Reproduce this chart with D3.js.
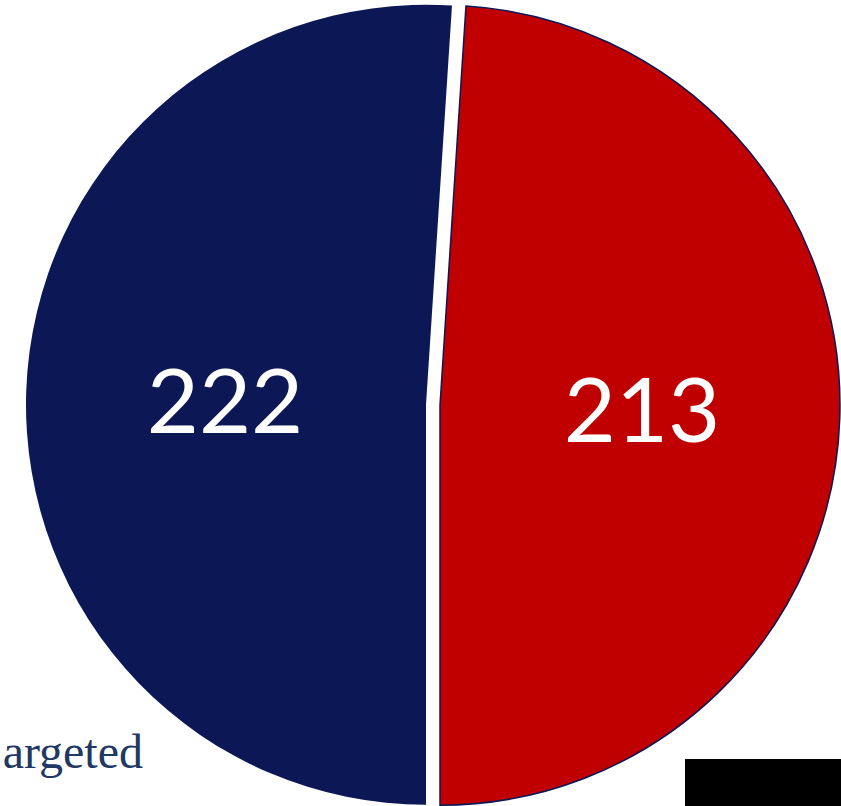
<!DOCTYPE html>
<html>
<head>
<meta charset="utf-8">
<script src="https://cdn.jsdelivr.net/npm/d3@7"></script>
<style>
  html, body { margin: 0; padding: 0; background: #ffffff; overflow: hidden; }
</style>
</head>
<body>
<svg id="drawing_region"></svg>
<script>
// slice values, in drawing order (clockwise from near 12 o'clock)
const categories = ["Red", "Blue"];
const values = [213, 222];
const colors = ["#C00000", "#0C1755"];
const labelText = "argeted";

const config = {
    parent: '#drawing_region',
    width: 841,
    height: 806,
    cx: 433,
    cy: 405,
    radius: 400,
    explode: 7
};

const svg = d3.select(config.parent)
    .attr('width', config.width)
    .attr('height', config.height);

// partial legend text peeking in at bottom left
svg.append('text')
    .attr('x', 143)
    .attr('y', 768)
    .attr('text-anchor', 'end')
    .style('font-family', '"Liberation Serif", "DejaVu Serif", serif')
    .style('font-size', '48px')
    .style('fill', '#1F3864')
    .text(labelText);

const data = categories.map((c, i) => ({ name: c, value: values[i], color: colors[i] }));

// red slice ends exactly at 6 o'clock, so start where the total works out
const total = d3.sum(values);
const start = Math.PI - (values[0] / total) * 2 * Math.PI;

const pie = d3.pie()
    .sort(null)
    .value(d => d.value)
    .startAngle(start)
    .endAngle(start + 2 * Math.PI);

const arc = d3.arc()
    .innerRadius(0)
    .outerRadius(config.radius);

const chart = svg.append('g')
    .attr('transform', `translate(${config.cx}, ${config.cy})`);

const slices = chart.selectAll('g.slice')
    .data(pie(data))
    .enter()
    .append('g')
    .attr('class', 'slice')
    .attr('transform', d => {
        const mid = (d.startAngle + d.endAngle) / 2;
        return `translate(${config.explode * Math.sin(mid)}, ${-config.explode * Math.cos(mid)})`;
    });

slices.append('path')
    .attr('d', arc)
    .attr('fill', d => d.data.color)
    .attr('stroke', d => d.data.name === 'Red' ? '#0C1755' : 'none')
    .attr('stroke-width', 1.5);

// value labels
const labelPos = { Red: [202, 37], Blue: [-201, 28] };
slices.append('text')
    .attr('x', d => labelPos[d.data.name][0])
    .attr('y', d => labelPos[d.data.name][1])
    .attr('text-anchor', 'middle')
    .style('font-family', 'Lato, "Open Sans", sans-serif')
    .style('font-size', '90px')
    .style('fill', '#ffffff')
    .text(d => d.data.value);

// black box at bottom right
svg.append('rect')
    .attr('x', 685)
    .attr('y', 759)
    .attr('width', 156)
    .attr('height', 47)
    .attr('fill', '#000000');
</script>
</body>
</html>
